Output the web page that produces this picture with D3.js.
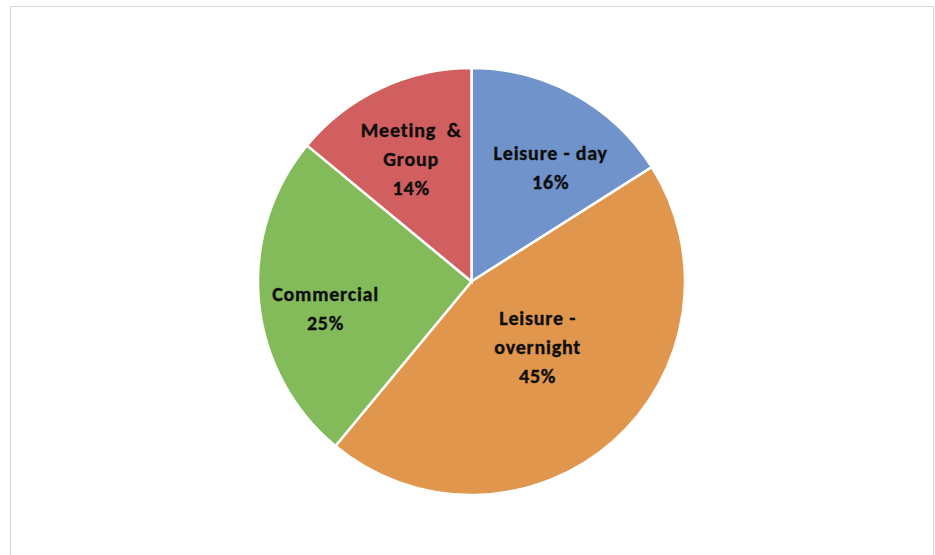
<!DOCTYPE html>
<html>
<head>
<meta charset="utf-8">
<script src="https://cdn.jsdelivr.net/npm/d3@7"></script>
<style>
  body { margin: 0; background: #fff; }
  svg { display: block; }
  .rotulo { font-family: "Carlito", "Lato", "Liberation Sans", sans-serif; font-weight: bold; fill: #0d0d0d; stroke: #0d0d0d; stroke-width: 0.35px; }
</style>
</head>
<body>
<svg id="grafico" width="935" height="555"></svg>
<script>
// dados
const categorias = ["Leisure - day", "Leisure - overnight", "Commercial", "Meeting & Group"];
const valores = [16, 45, 25, 14];
// quebra de linha dos rótulos, como no original
const linhas_rotulo = [["Leisure - day"], ["Leisure -", "overnight"], ["Commercial"], ["Meeting  &", "Group"]];

const cores = ["#7093cc", "#e0964c", "#84bb5a", "#d25f5f"];

// posição dos rótulos (fração do raio e desvio angular em graus), ajuste "best fit"
const pos_rotulo = [
  { r: 0.65, da: 6 },
  { r: 0.435, da: -4 },
  { r: 0.695, da: -5 },
  { r: 0.64, da: -1 }
];

const svg = d3.select("#grafico");
const w = +svg.attr("width");
const h = +svg.attr("height");

// moldura cinza da área do gráfico
svg.append("rect")
  .attr("x", 10.5).attr("y", 6.5)
  .attr("width", 923).attr("height", 560)
  .attr("fill", "none")
  .attr("stroke", "#d9d9d9")
  .attr("stroke-width", 1);

const cx = 471.5, cy = 281.5, raio = 213.5;
const g = svg.append("g").attr("transform", `translate(${cx},${cy})`);

const pie = d3.pie().sort(null).value(d => d);
const arcos = pie(valores);
const arc = d3.arc().innerRadius(0).outerRadius(raio);

g.selectAll("path.fatia")
  .data(arcos)
  .enter()
  .append("path")
    .attr("class", "fatia")
    .attr("d", arc)
    .attr("fill", (d, i) => cores[i])
    .attr("stroke", "#fff")
    .attr("stroke-width", 2.5)
    .attr("stroke-linejoin", "miter");

const tam_fonte = 20;
const entrelinha = 29;

arcos.forEach(function(d, i) {
  const meio = (d.startAngle + d.endAngle) / 2 + pos_rotulo[i].da * Math.PI / 180;
  const r = raio * pos_rotulo[i].r;
  const x = r * Math.sin(meio);
  const y = -r * Math.cos(meio);
  const linhas = linhas_rotulo[i].concat([d3.format(".0%")(d.value / 100)]);
  const y0 = y - (linhas.length - 1) * entrelinha / 2;
  const txt = g.append("text")
    .attr("class", "rotulo")
    .attr("text-anchor", "middle")
    .attr("font-size", tam_fonte + "px")
    .attr("letter-spacing", "0.8px")
    .style("white-space", "pre");
  linhas.forEach(function(l, k) {
    txt.append("tspan")
      .attr("x", x)
      .attr("y", y0 + k * entrelinha)
      .attr("dy", "0.35em")
      .text(l);
  });
});
</script>
</body>
</html>
